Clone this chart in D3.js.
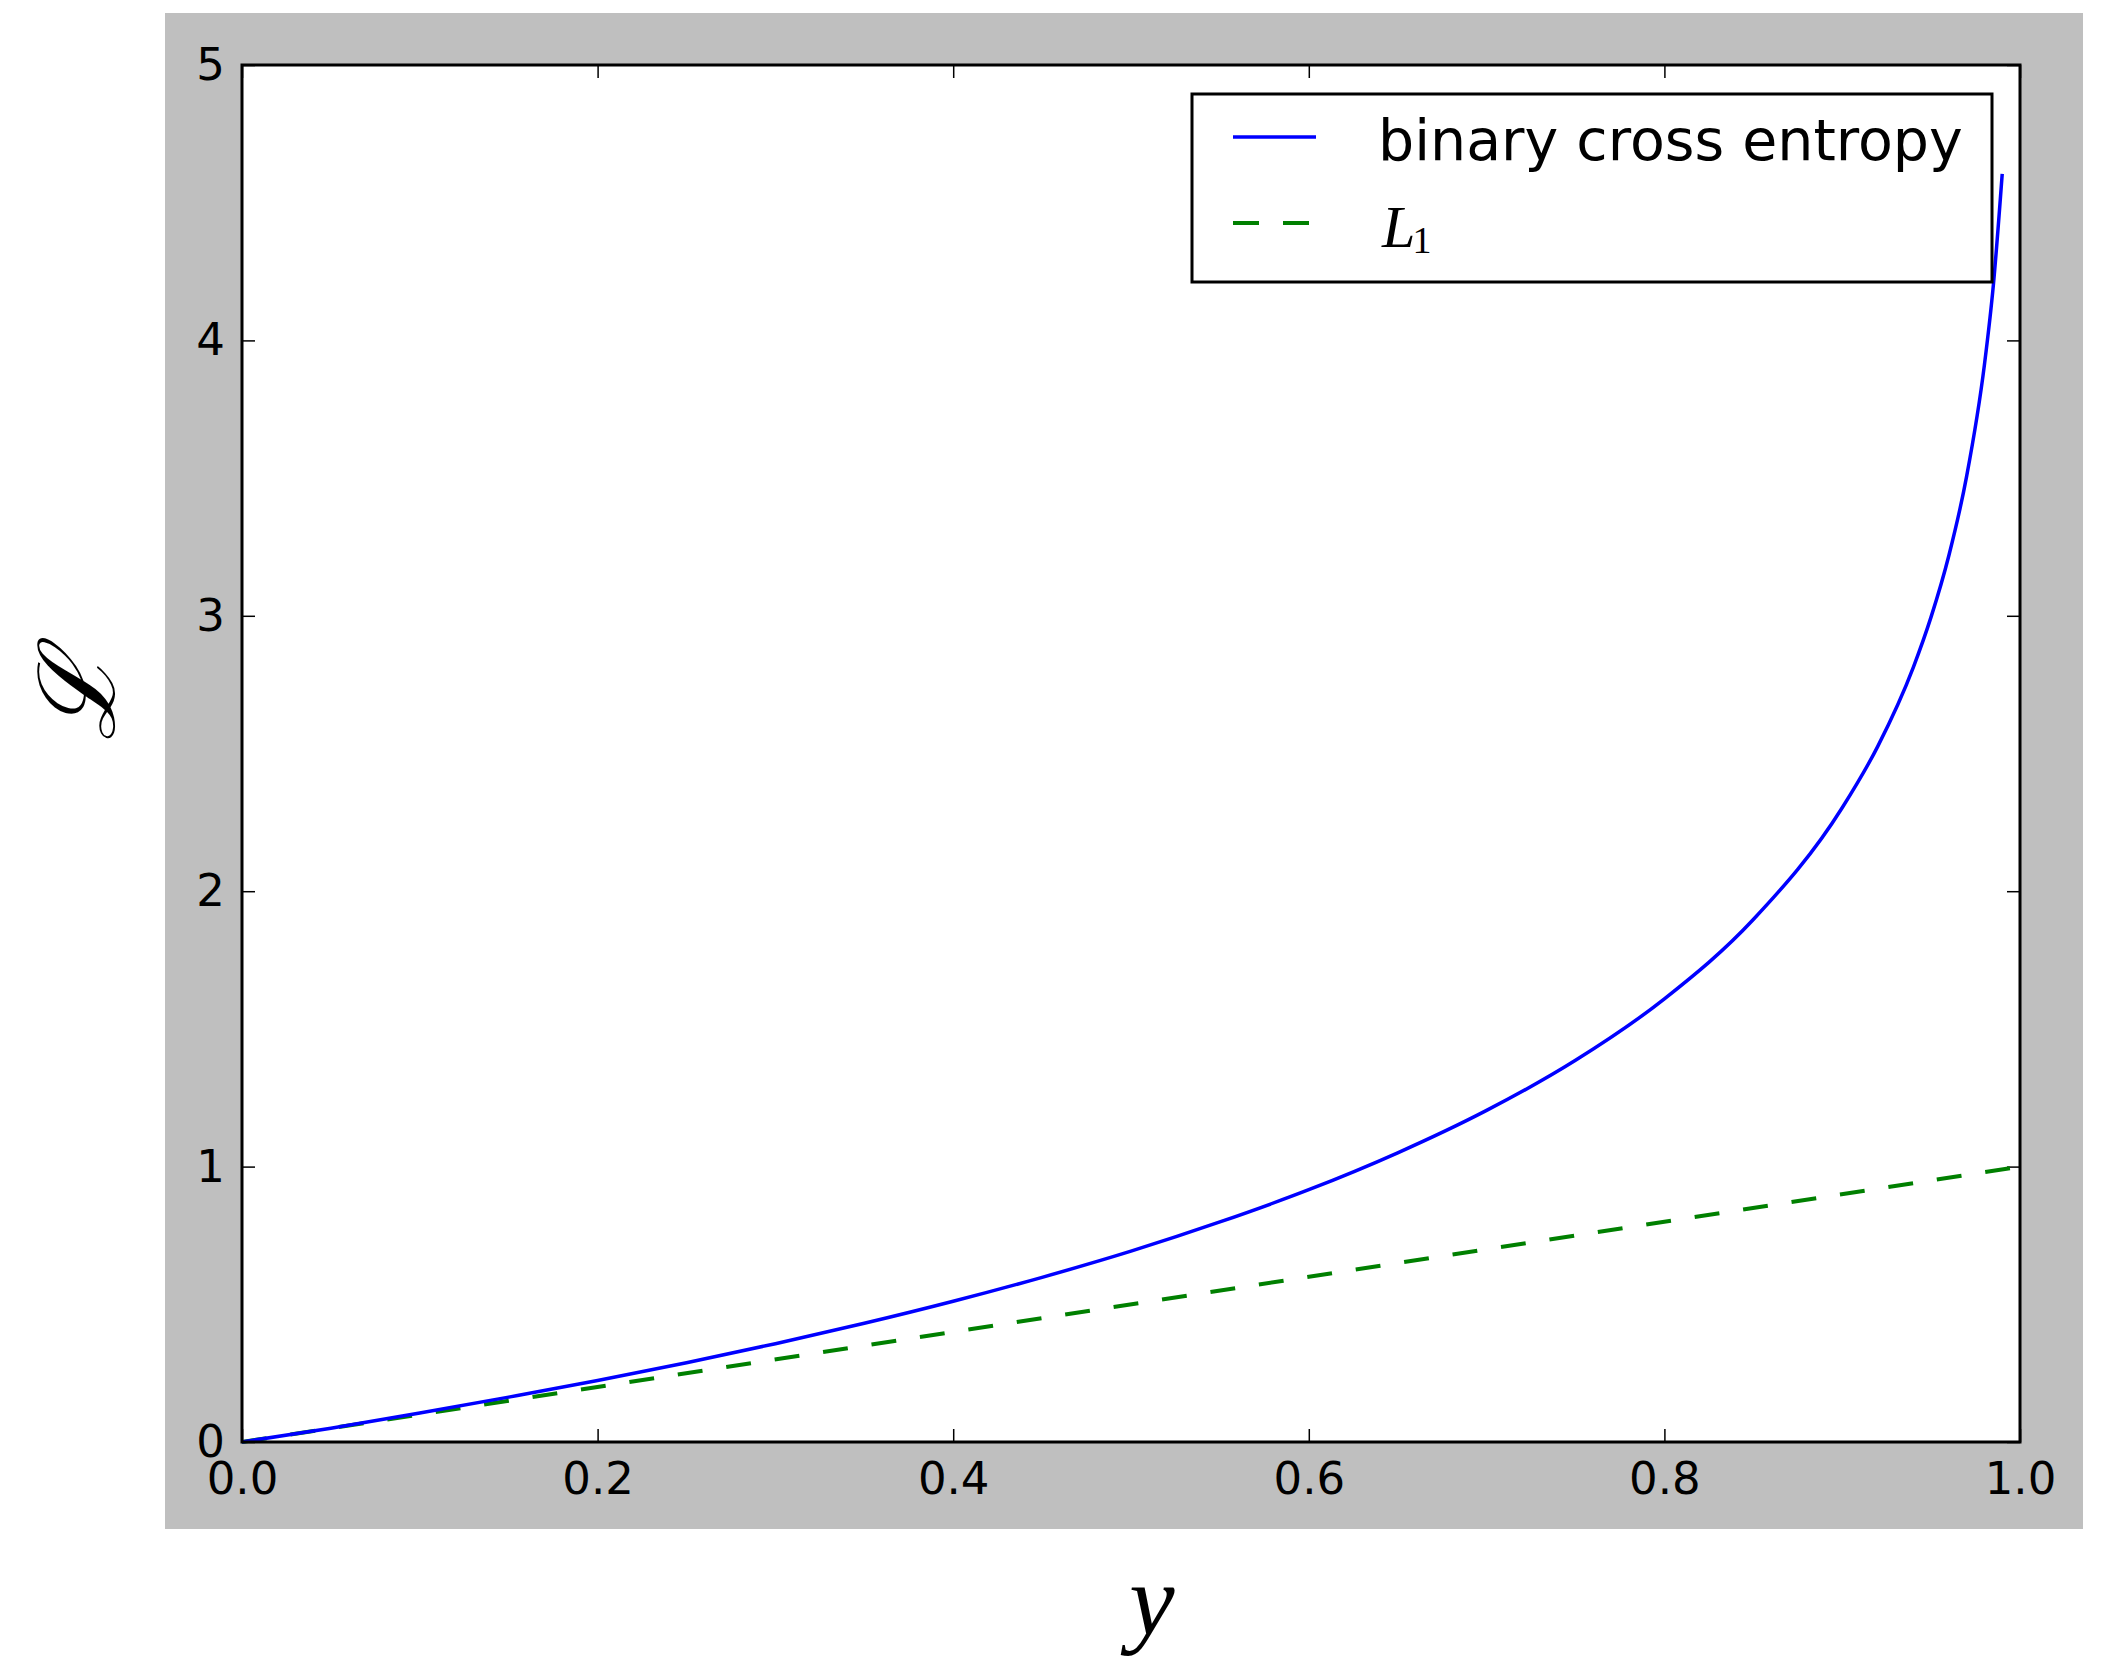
<!DOCTYPE html>
<html>
<head>
<meta charset="utf-8">
<script src="https://cdn.jsdelivr.net/npm/d3@7"></script>
<style>
  body { margin: 0; background: #fff; }
  svg text { fill: #000; }
</style>
</head>
<body>
<div id="chart"></div>
<script>
'use strict';

// values
var yPoints = [0, 0.05, 0.1, 0.15, 0.2, 0.25, 0.3, 0.35, 0.4, 0.45, 0.5, 0.55, 0.6, 0.65,
  0.7, 0.75, 0.8, 0.85, 0.9, 0.92, 0.94, 0.95, 0.96, 0.97, 0.98, 0.985, 0.99];
var bceValues = [0, 0.05, 0.105, 0.163, 0.223, 0.288, 0.357, 0.431, 0.511, 0.598, 0.693, 0.799, 0.916, 1.05,
  1.204, 1.386, 1.609, 1.897, 2.303, 2.526, 2.813, 2.996, 3.219, 3.507, 3.912, 4.2, 4.605];
var l1Points = [0, 1];
var l1Values = [0, 1];
var xTicks = [0, 0.2, 0.4, 0.6, 0.8, 1.0];
var yTicks = [0, 1, 2, 3, 4, 5];
var seriesNames = ['binary cross entropy', 'L'];

var W = 2111, H = 1658;
var plot = {left: 242, top: 65, right: 2020, bottom: 1442};

var svg = d3.select('#chart').append('svg')
  .attr('width', W)
  .attr('height', H);

// grey figure background
svg.append('rect')
  .attr('x', 165).attr('y', 13)
  .attr('width', 2083 - 165).attr('height', 1529 - 13)
  .attr('fill', '#bfbfbf');

svg.append('rect')
  .attr('x', plot.left).attr('y', plot.top)
  .attr('width', plot.right - plot.left).attr('height', plot.bottom - plot.top)
  .attr('fill', '#fff');

var x = d3.scaleLinear().domain([0, 1]).range([plot.left, plot.right]);
var y = d3.scaleLinear().domain([0, 5]).range([plot.bottom, plot.top]);

var tickFont = '45px "DejaVu Sans"';

function styleAxis(g, labels) {
  g.select('.domain').remove();
  g.selectAll('.tick line').attr('stroke', '#000').attr('stroke-width', 1.5);
  g.selectAll('.tick text').style('font', tickFont).attr('fill', '#000');
  if (!labels) g.selectAll('.tick text').remove();
}

svg.append('g')
  .attr('transform', 'translate(0,' + plot.bottom + ')')
  .call(d3.axisBottom(x).tickValues(xTicks).tickSize(-13).tickPadding(20).tickFormat(d3.format('.1f')))
  .call(styleAxis, true);

svg.append('g')
  .attr('transform', 'translate(0,' + plot.top + ')')
  .call(d3.axisTop(x).tickValues(xTicks).tickSize(-13))
  .call(styleAxis, false);

svg.append('g')
  .attr('transform', 'translate(' + plot.left + ',0)')
  .call(d3.axisLeft(y).tickValues(yTicks).tickSize(-13).tickPadding(17).tickFormat(d3.format('d')))
  .call(styleAxis, true);

svg.append('g')
  .attr('transform', 'translate(' + plot.right + ',0)')
  .call(d3.axisRight(y).tickValues(yTicks).tickSize(-13))
  .call(styleAxis, false);

var line = d3.line()
  .x(function(d) { return x(d[0]); })
  .y(function(d) { return y(d[1]); })
  .curve(d3.curveMonotoneX);

svg.append('path')
  .datum(d3.zip(l1Points, l1Values))
  .attr('d', line)
  .attr('fill', 'none')
  .attr('stroke', '#008000')
  .attr('stroke-width', 4)
  .attr('stroke-dasharray', '25,24');

svg.append('path')
  .datum(d3.zip(yPoints, bceValues))
  .attr('d', line)
  .attr('fill', 'none')
  .attr('stroke', '#0000ff')
  .attr('stroke-width', 3.5);

// frame
svg.append('rect')
  .attr('x', plot.left).attr('y', plot.top)
  .attr('width', plot.right - plot.left).attr('height', plot.bottom - plot.top)
  .attr('fill', 'none')
  .attr('stroke', '#000')
  .attr('stroke-width', 3);

// legend
var legend = svg.append('g').attr('class', 'legend');
legend.append('rect')
  .attr('x', 1192).attr('y', 94)
  .attr('width', 1992 - 1192).attr('height', 282 - 94)
  .attr('fill', '#fff')
  .attr('stroke', '#000')
  .attr('stroke-width', 3);

legend.append('line')
  .attr('x1', 1233).attr('x2', 1316).attr('y1', 137).attr('y2', 137)
  .attr('stroke', '#0000ff').attr('stroke-width', 3.5);
legend.append('line')
  .attr('x1', 1233).attr('x2', 1309).attr('y1', 223).attr('y2', 223)
  .attr('stroke', '#008000').attr('stroke-width', 4)
  .attr('stroke-dasharray', '26,24');

legend.append('text')
  .attr('x', 1378).attr('y', 160)
  .style('font', '57px "DejaVu Sans"')
  .text(seriesNames[0]);

var l1 = legend.append('text')
  .attr('x', 1382).attr('y', 247)
  .style('font', 'italic 60px "Liberation Serif"');
l1.append('tspan').text(seriesNames[1]);
l1.append('tspan')
  .attr('dx', -3)
  .attr('dy', 6)
  .style('font-style', 'normal')
  .style('font-size', '38px')
  .text('1');

// axis labels
svg.append('text')
  .attr('x', 1152).attr('y', 1634)
  .attr('text-anchor', 'middle')
  .style('font', 'italic 102px "Liberation Serif"')
  .text('y');

svg.append('text')
  .attr('transform', 'translate(114,697) rotate(-90)')
  .attr('text-anchor', 'middle')
  .style('font', 'italic 106px "DejaVu Serif"')
  .text('\u2112');
</script>
</body>
</html>
